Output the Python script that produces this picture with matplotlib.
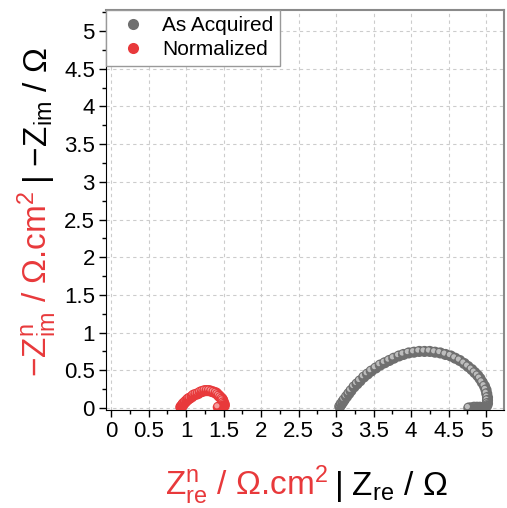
import numpy as np
import matplotlib
matplotlib.use("Agg")
import matplotlib.pyplot as plt
from matplotlib.lines import Line2D
from matplotlib.ticker import MultipleLocator
from matplotlib.transforms import offset_copy

plt.rcParams['font.family'] = ['Liberation Sans', 'DejaVu Sans']
plt.rcParams['mathtext.fontset'] = 'custom'
plt.rcParams['mathtext.rm'] = 'Liberation Sans'
plt.rcParams['mathtext.it'] = 'Liberation Sans'
plt.rcParams['mathtext.bf'] = 'Liberation Sans'

# as acquired (ohm)
zre_acq = [3.05, 3.07, 3.09, 3.11, 3.14, 3.17, 3.20, 3.24, 3.28, 3.32, 3.37, 3.42,
           3.47, 3.53, 3.59, 3.65, 3.71, 3.77, 3.84, 3.90, 3.97, 4.04, 4.11, 4.18,
           4.25, 4.32, 4.39, 4.46, 4.53, 4.59, 4.65, 4.71, 4.76, 4.81, 4.85, 4.89,
           4.92, 4.95, 4.98, 5.00, 5.01, 5.02, 5.02, 5.02, 5.01, 4.99, 4.96, 4.92,
           4.88, 4.84, 4.80, 4.77]
zim_acq = [0.02, 0.05, 0.08, 0.11, 0.15, 0.19, 0.23, 0.28, 0.32, 0.36, 0.41, 0.45,
           0.49, 0.53, 0.57, 0.60, 0.63, 0.66, 0.69, 0.71, 0.73, 0.74, 0.75, 0.75,
           0.75, 0.74, 0.73, 0.71, 0.69, 0.66, 0.63, 0.59, 0.55, 0.51, 0.47, 0.43,
           0.39, 0.34, 0.29, 0.24, 0.19, 0.14, 0.10, 0.06, 0.03, 0.01, 0.00, 0.01,
           0.01, 0.01, 0.00, 0.00]

# normalized (ohm.cm2)
zre_norm = [0.93, 0.94, 0.95, 0.96, 0.97, 0.99, 1.01, 1.03, 1.05, 1.08, 1.10, 1.13,
            1.16, 1.19, 1.22, 1.25, 1.28, 1.31, 1.34, 1.37, 1.40, 1.42, 1.44, 1.46,
            1.48, 1.49, 1.50, 1.51, 1.51, 1.50, 1.49, 1.47, 1.45, 1.43]
zim_norm = [0.01, 0.02, 0.03, 0.05, 0.06, 0.08, 0.10, 0.12, 0.13, 0.15, 0.17, 0.18,
            0.19, 0.21, 0.22, 0.23, 0.23, 0.23, 0.22, 0.21, 0.20, 0.18, 0.16, 0.14,
            0.12, 0.10, 0.07, 0.05, 0.03, 0.02, 0.01, 0.00, 0.01, 0.01]

fig = plt.figure(figsize=(5.07, 5.08), dpi=100)
ax = fig.add_axes([106/507, 98/508, 398/507, 400/508])

hl = offset_copy(ax.transData, fig=fig, x=-1.4, y=1.4, units='dots')

def spheres(x, y, base, light, z0):
    for i in range(len(x)):
        ax.scatter(x[i], y[i], s=64, color=base, edgecolors='none', zorder=z0 + 2*i)
        ax.scatter(x[i], y[i], s=14, color=light, edgecolors='none', zorder=z0 + 2*i + 1,
                   transform=hl)

spheres(zre_acq, zim_acq, '#6f6f6f', '#bdbdbd', 10)
spheres(zre_norm, zim_norm, '#e8393b', '#f59a9a', 300)

ax.set_xlim(-0.067, 5.24)
ax.set_ylim(-0.027, 5.28)
ax.xaxis.set_major_locator(MultipleLocator(0.5))
ax.xaxis.set_minor_locator(MultipleLocator(0.25))
ax.yaxis.set_major_locator(MultipleLocator(0.5))
ax.yaxis.set_minor_locator(MultipleLocator(0.25))
ax.xaxis.set_major_formatter(plt.FuncFormatter(lambda v, p: '%g' % v))
ax.yaxis.set_major_formatter(plt.FuncFormatter(lambda v, p: '%g' % v))
ax.tick_params(which='major', direction='out', length=5, width=1, labelsize=16, pad=3)
ax.tick_params(which='minor', direction='out', length=3, width=1)
ax.grid(True, which='major', color='#cccccc', linestyle=(0, (3, 3)), linewidth=0.8)
ax.set_axisbelow(True)
for s in ['top', 'right']:
    ax.spines[s].set_color('#8a8a8a')
    ax.spines[s].set_linewidth(1.5)

handles = [Line2D([], [], linestyle='none', marker='o', markersize=8,
                  markerfacecolor='#6f6f6f', markeredgecolor='none'),
           Line2D([], [], linestyle='none', marker='o', markersize=8,
                  markerfacecolor='#e8393b', markeredgecolor='none')]
leg = ax.legend(handles, ['As Acquired', 'Normalized'], loc='upper left',
                bbox_to_anchor=(0, 1), borderaxespad=0, fontsize=15,
                fancybox=False, framealpha=1, edgecolor='#999999',
                handletextpad=0.4, labelspacing=0.25, borderpad=0.3)
leg.get_frame().set_linewidth(1)
leg.set_zorder(1000)

red = '#e8393b'
fig.text(165/507, 13/508, r'$\mathrm{Z}^{\mathrm{n}}_{\mathrm{re}}$ / Ω.cm$^{2}$',
         color=red, fontsize=24, ha='left', va='baseline')
fig.text(448/507, 13/508, r'| $\mathrm{Z}_{\mathrm{re}}$ / Ω',
         color='black', fontsize=24, ha='right', va='baseline')
fig.text(47/507, 131/508, r'−$\mathrm{Z}^{\mathrm{n}}_{\mathrm{im}}$ / Ω.cm$^{2}$',
         color=red, fontsize=24, ha='left', va='baseline', rotation=90,
         rotation_mode='anchor')
fig.text(47/507, 461/508, r'| −$\mathrm{Z}_{\mathrm{im}}$ / Ω',
         color='black', fontsize=24, ha='right', va='baseline', rotation=90,
         rotation_mode='anchor')

fig.savefig('out.png', dpi=100)
